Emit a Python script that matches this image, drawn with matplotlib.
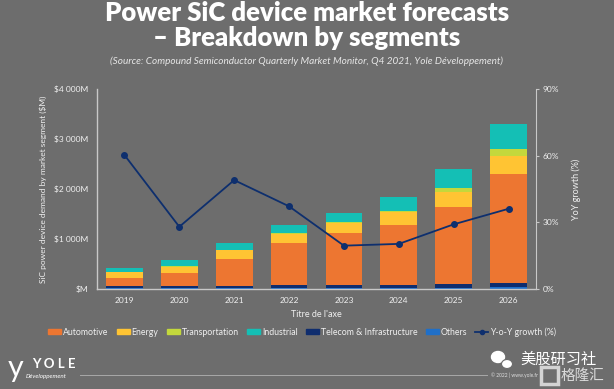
import matplotlib
matplotlib.use("Agg")
import matplotlib.pyplot as plt
import matplotlib.patches as mpatches
from matplotlib.lines import Line2D
import numpy as np

plt.rcParams['font.family'] = ['Lato', 'Noto Sans CJK SC', 'DejaVu Sans']

years = ['2019', '2020', '2021', '2022', '2023', '2024', '2025', '2026']
others = [16, 16, 16, 19, 22, 24, 30, 40]
telecom = [50, 50, 50, 55, 58, 62, 70, 80]
automotive = [148, 254, 540, 846, 1034, 1194, 1540, 2174]
energy = [126, 126, 168, 186, 200, 254, 300, 360]
transportation = [4, 5, 6, 8, 26, 26, 86, 152]
industrial = [86, 128, 132, 160, 186, 280, 380, 488]
yoy_growth = [60.3, 28.0, 49.0, 37.2, 19.5, 20.3, 29.1, 36.1]

left_ticks = [0, 1000, 2000, 3000, 4000]
left_labels = ['\\$M', '\\$1 000M', '\\$2 000M', '\\$3 000M', '\\$4 000M']
right_ticks = [0, 30, 60, 90]
right_labels = ['0%', '30%', '60%', '90%']

bg = '#6d6d6d'
txt = '#f0f0f0'
axis_col = '#c8c8c8'

# bottom-to-top stack order
series = [
    ('Others', others, '#1f6fc8'),
    ('Telecom & Infrastructure', telecom, '#0f2d6e'),
    ('Automotive', automotive, '#ed7631'),
    ('Energy', energy, '#ffc433'),
    ('Transportation', transportation, '#c3d83c'),
    ('Industrial', industrial, '#14bfb5'),
]
line_col = '#0e2f6e'

fig = plt.figure(figsize=(6.14, 3.89), dpi=100, facecolor=bg)
ax = fig.add_axes([97 / 614, 1 - 289 / 389, 439 / 614, 200 / 389])
ax.set_facecolor(bg)

x = np.arange(len(years))
bottom = np.zeros(len(years))
for name, vals, col in series:
    ax.bar(x, vals, 0.67, bottom=bottom, color=col, label=name, zorder=2)
    bottom += np.array(vals)

ax.set_xlim(-0.5, len(years) - 0.5)
ax.set_ylim(0, 4000)
ax.set_yticks(left_ticks)
ax.set_yticklabels(left_labels)
ax.set_xticks(x)
ax.set_xticklabels(years)
ax.tick_params(axis='both', colors=txt, labelsize=6, length=0, pad=6)
ax.set_xlabel("Titre de l'axe", color=txt, fontsize=6.5, labelpad=4)
ax.set_ylabel('SiC power device demand by market segment (\\$M)', color=txt,
              fontsize=6, labelpad=5)
for s in ['top', 'right']:
    ax.spines[s].set_visible(False)
for s in ['left', 'bottom']:
    ax.spines[s].set_color(axis_col)
    ax.spines[s].set_linewidth(1.0)

ax2 = ax.twinx()
ax2.plot(x, yoy_growth, color=line_col, lw=1.3, marker='o', ms=4, zorder=3)
ax2.set_ylim(0, 90)
ax2.set_yticks(right_ticks)
ax2.set_yticklabels(right_labels)
ax2.tick_params(axis='y', colors=axis_col, labelcolor=txt, labelsize=6,
                length=2, direction='out', pad=3)
ax2.set_ylabel('YoY growth (%)', color=txt, fontsize=6.5, labelpad=9)
for s in ['top', 'left', 'bottom']:
    ax2.spines[s].set_visible(False)
ax2.spines['right'].set_color(axis_col)

# legend
order = ['Automotive', 'Energy', 'Transportation', 'Industrial',
         'Telecom & Infrastructure', 'Others']
colors = {n: c for n, v, c in series}
leg_handles = [mpatches.Patch(color=colors[n], label=n) for n in order]
leg_handles.append(Line2D([0], [0], color=line_col, lw=1.3, marker='o', ms=3,
                          label='Y-o-Y growth (%)'))
fig.legend(handles=leg_handles, loc='center', bbox_to_anchor=(0.492, 1 - 332 / 389),
           ncol=7, frameon=False, fontsize=6.3, labelcolor=txt,
           handlelength=1.5, handleheight=0.45, handletextpad=0.2,
           columnspacing=0.95)

# titles
fig.text(0.5, 1 - 13 / 389, 'Power SiC device market forecasts', ha='center',
         va='center', color='white', fontsize=18.5, fontweight='heavy')
fig.text(0.5, 1 - 38 / 389, '\u2013 Breakdown by segments', ha='center',
         va='center', color='white', fontsize=18.5, fontweight='heavy')
fig.text(0.5, 1 - 61 / 389,
         '(Source: Compound Semiconductor Quarterly Market Monitor, Q4 2021, Yole D\u00e9veloppement)',
         ha='center', va='center', color='#e6e6e6', fontsize=7.2, style='italic')

# footer
fig.text(32 / 614, 1 - 364 / 389, 'Y O L E', color='white', fontsize=9.5,
         fontweight='bold', va='center', ha='left')
fig.text(8 / 614, 1 - 368 / 389, 'y', color='white', fontsize=22,
         va='center', ha='left')
fig.text(26 / 614, 1 - 376 / 389, 'D\u00e9veloppement', color='white', fontsize=4.5,
         style='italic', va='center', ha='left')
fig.add_artist(Line2D([80 / 614, 487 / 614], [1 - 375 / 389, 1 - 375 / 389],
                      color='#a8a8a8', lw=0.7))
fig.text(491 / 614, 1 - 375 / 389, '\u00a9 2022 | www.yole.fr', color='#e0e0e0',
         fontsize=3.5, va='center', ha='left')

# watermark
fig.add_artist(mpatches.Ellipse((498 / 614, 1 - 357 / 389), 13 / 614, 11 / 389,
                                color='white'))
fig.add_artist(mpatches.Ellipse((507 / 614, 1 - 364 / 389), 11 / 614, 9 / 389,
                                color='white', ec=bg, lw=0.8))
fig.text(520 / 614, 1 - 359 / 389, '美股研习社', color='white', fontsize=11,
         va='center', ha='left', family=['Noto Sans CJK SC', 'DejaVu Sans'])
fig.add_artist(mpatches.Rectangle((541 / 614, 1 - 384 / 389), 17 / 614, 17 / 389,
                                  fill=False, ec='#eeeeee', lw=2.5, alpha=0.8))
fig.text(561 / 614, 1 - 376 / 389, '格隆汇', color='#eeeeee', fontsize=10.5,
         va='center', ha='left', alpha=0.85, family=['Noto Sans CJK SC', 'DejaVu Sans'])

fig.savefig('out.png', dpi=100, facecolor=bg)
